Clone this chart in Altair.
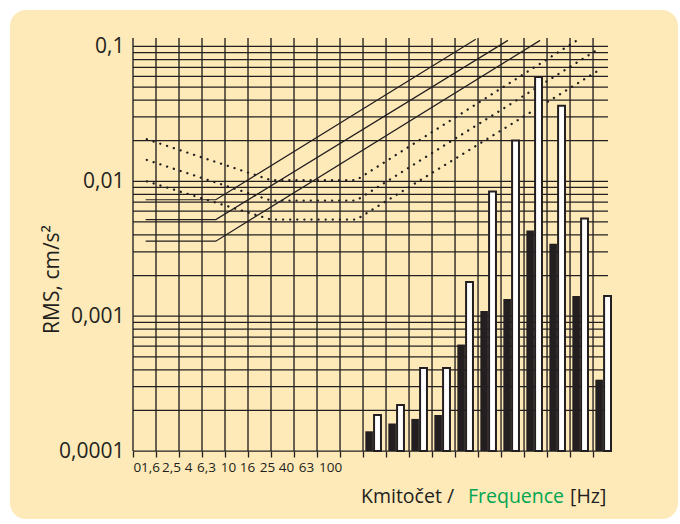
import altair as alt
import pandas as pd

INK = "#231f20"
CREAM = "#feeab8"
GREEN = "#00a651"
FONT = "Open Sans"

# Frequency grid: 21 equally spaced columns, the first eleven carry labels
freq_labels = ["0", "1,6", "2,5", "4", "6,3", "10", "16", "25", "40", "63", "100"]
# labels are set tightly, each shifted left of its grid line by this many pixels
label_shift = [0, -6, -8, -14, -19, -20, -24, -27, -31, -34, -33]
column_index = list(range(21))
x_extent = 20.65

# RMS axis (log), decade labels
decade_values = [0.0001, 0.001, 0.01, 0.1]
decade_labels = ["0,0001", "0,001", "0,01", "0,1"]
y_extent = [0.0001, 0.1156]
grid_levels = [m * d for d in decade_values[:-1] for m in range(1, 10)] + [0.1]

# Measured spectrum: one pair of bars per band (columns 10..20)
band_slot = list(range(10, 21))
rms_black = [0.00014, 0.00016, 0.000173, 0.000185, 0.000616, 0.00109,
             0.00134, 0.00431, 0.00344, 0.00141, 0.000338]
rms_white = [0.000185, 0.000219, 0.000413, 0.000413, 0.00179, 0.00842,
             0.0201, 0.0593, 0.0364, 0.0053, 0.00141]

# Limit curves: knots as (column position, RMS)
solid_curves = [
    ([0.55, 3.6, 14.9], [0.0073, 0.0073, 0.113]),
    ([0.55, 3.6, 16.3], [0.0052, 0.0052, 0.111]),
    ([0.55, 3.6, 17.7], [0.0036, 0.0036, 0.111]),
]
dotted_curves = [
    ([0.6, 6.0, 9.7, 19.3], [0.0205, 0.0102, 0.0102, 0.111]),
    ([0.6, 6.0, 9.7, 20.2], [0.0144, 0.0072, 0.0072, 0.0949]),
    ([0.6, 6.0, 9.7, 20.2], [0.0100, 0.0052, 0.0052, 0.0658]),
]


def curve_frame(curves, prefix):
    rows = []
    for k, (xs, ys) in enumerate(curves):
        for j, (fx, ry) in enumerate(zip(xs, ys)):
            rows.append({"curve": f"{prefix}{k}", "step": j, "f": fx, "rms": ry})
    return pd.DataFrame(rows)


solid_df = curve_frame(solid_curves, "s")
dotted_df = curve_frame(dotted_curves, "d")
bars_df = pd.DataFrame({"slot": band_slot, "black": rms_black, "white": rms_white,
                        "floor": [y_extent[0]] * len(band_slot)})
cols_df = pd.DataFrame({"col": column_index})
levels_df = pd.DataFrame({"lvl": grid_levels})
one = pd.DataFrame({"k": [0]})

label_array = "[" + ",".join(f"'{s}'" for s in freq_labels) + "]"
shift_array = "[" + ",".join(str(s) for s in label_shift) + "]"
decade_array = "[" + ",".join(f"'{s}'" for s in decade_labels) + "]"
n_lab = len(freq_labels)

x_scale = alt.Scale(domain=[0, x_extent], nice=False, zero=False)
y_scale = alt.Scale(type="log", domain=y_extent, nice=False)

x_axis = alt.Axis(
    values=column_index,
    labelExpr=f"datum.value < {n_lab} ? {label_array}[datum.value] : ''",
    grid=False, domain=False, ticks=True, tickSize=6, tickWidth=1.3, tickColor=INK,
    labelFont=FONT, labelFontSize=13.5, labelColor=INK, labelPadding=3,
    labelOverlap=False, labelBound=False,
    labelOffset={"expr": f"datum.value < {n_lab} ? {shift_array}[datum.value] : 0"},
    labelAngle=0, zindex=1,
)
y_axis = alt.Axis(
    values=decade_values,
    labelExpr=f"{decade_array}[round(log(datum.value)/LN10)+4]",
    grid=False, domain=False, ticks=False,
    labelFont=FONT, labelFontSize=21, labelColor=INK, labelPadding=9,
    labelOverlap=False,
    titleFont=FONT, titleFontSize=21, titleColor=INK, titleFontWeight="normal",
    titleAngle=270, titleAlign="center", titleBaseline="middle",
    titleX=-81, titleY=241, zindex=1,
)


def X(field):
    return alt.X(field, type="quantitative", scale=x_scale, axis=x_axis, title="")


def Y(field):
    return alt.Y(field, type="quantitative", scale=y_scale, axis=y_axis, title="RMS, cm/s²")


panel = alt.Chart(one).mark_rect(fill=CREAM, cornerRadius=16).encode(
    x=alt.value(-123), x2=alt.value(545), y=alt.value(-28), y2=alt.value(481)
)

h_grid = alt.Chart(levels_df).mark_rule(color=INK, strokeWidth=1.25).encode(y=Y("lvl"))
v_grid = alt.Chart(cols_df).mark_rule(color=INK, strokeWidth=1.35).encode(x=X("col"))

solid = alt.Chart(solid_df).mark_line(color=INK, strokeWidth=1.2).encode(
    x=X("f"), y=Y("rms"), detail="curve:N", order="step:Q"
)
dotted = alt.Chart(dotted_df).mark_line(
    color=INK, strokeWidth=2.3, strokeDash=[0.1, 7], strokeCap="round"
).encode(x=X("f"), y=Y("rms"), detail="curve:N", order="step:Q")

bars_black = alt.Chart(bars_df).transform_calculate(
    x0="datum.slot + 0.1", x1="datum.slot + 0.43"
).mark_rect(color=INK).encode(x=X("x0"), x2="x1:Q", y=Y("black"), y2="floor:Q")

bars_white = alt.Chart(bars_df).transform_calculate(
    x0="datum.slot + 0.48", x1="datum.slot + 0.78"
).mark_rect(fill="white", stroke=INK, strokeWidth=2).encode(
    x=X("x0"), x2="x1:Q", y=Y("white"), y2="floor:Q"
)

# x-axis caption in three coloured pieces
caption_parts = [("Kmitočet /", INK, 228), ("Frequence", GREEN, 335), ("[Hz]", INK, 437)]
captions = [
    alt.Chart(one).mark_text(
        align="left", baseline="alphabetic", font=FONT, fontSize=19.5, color=color
    ).encode(x=alt.value(px), y=alt.value(465), text=alt.value(txt))
    for txt, color, px in caption_parts
]

chart = alt.layer(
    panel, h_grid, v_grid, solid, dotted, bars_black, bars_white, *captions
).properties(
    width=475, height=413,
    padding={"left": 133, "top": 38, "right": 72, "bottom": 73},
    autosize=alt.AutoSizeParams(type="none"),
).configure(background="white").configure_view(strokeWidth=0)

chart.save("out.html", embed_options={"renderer": "svg", "actions": False})
